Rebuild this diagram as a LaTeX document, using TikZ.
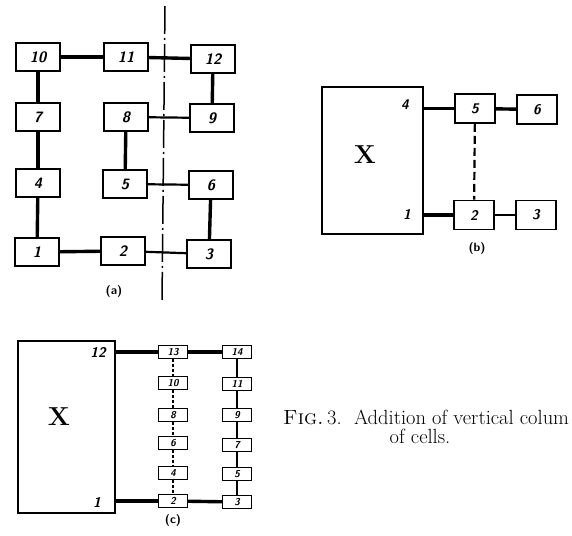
\documentclass[tikz,border=0pt]{standalone}
\begin{document}
\begin{tikzpicture}[x=1pt,y=-1pt,
  cell/.style={draw,line width=1.6pt,minimum width=44pt,minimum height=28pt,inner sep=0pt,
    font=\sffamily\bfseries\itshape\fontsize{15}{15}\selectfont},
  tinycell/.style={cell,line width=1.3pt,minimum width=29pt,minimum height=13pt,
    font=\sffamily\bfseries\itshape\fontsize{10}{10}\selectfont},
  midcell/.style={cell,minimum width=40pt,minimum height=29pt,
    font=\sffamily\bfseries\itshape\fontsize{14}{14}\selectfont},
  block/.style={draw,line width=1.6pt,inner sep=0pt},
  corner/.style={font=\sffamily\bfseries\itshape\fontsize{14}{14}\selectfont},
  bigx/.style={font=\bfseries\fontsize{26}{26}\selectfont},
  sublab/.style={font=\sffamily\bfseries\fontsize{12}{12}\selectfont},
  captext/.style={inner sep=0pt,font=\fontsize{20.5}{20.5}\selectfont},
  heavy/.style={line width=3.4pt},
  medium/.style={line width=2.2pt},
  light/.style={line width=1.2pt}]
  \useasboundingbox (0,0) rectangle (572,535);
  % (a)
  \node[cell] (a10) at (38,57) {10};
  \node[cell] (a11) at (126,57) {11};
  \node[cell] (a12) at (213,59) {12};
  \node[cell] (a7) at (38,117) {7};
  \node[cell] (a8) at (126,117) {8};
  \node[cell] (a9) at (212,118) {9};
  \node[cell] (a4) at (38,183) {4};
  \node[cell] (a5) at (125,184) {5};
  \node[cell] (a6) at (211,185) {6};
  \node[cell] (a1) at (37,252) {1};
  \node[cell] (a2) at (123,251) {2};
  \node[cell] (a3) at (209,254) {3};
  \draw[heavy] (a10) -- (a11);
  \draw[heavy] (a11) -- (a12);
  \draw[heavy] (a10) -- (a7);
  \draw[heavy] (a7) -- (a4);
  \draw[heavy] (a4) -- (a1);
  \draw[heavy] (a1) -- (a2);
  \draw[medium] (a2) -- (a3);
  \draw[heavy] (a12) -- (a9);
  \draw[medium] (a9) -- (a8);
  \draw[heavy] (a8) -- (a5);
  \draw[medium] (a5) -- (a6);
  \draw[heavy] (a6) -- (a3);
  \coordinate (cutT) at (165,6);
  \coordinate (cutB) at (162,302);
  \draw[line width=1.5pt,dash pattern=on 28pt off 4pt on 2pt off 4pt] (cutT) -- (cutB);
  \node[sublab] (alab) at (114,291) {(a)};
  % (b)
  \node[block,minimum width=101pt,minimum height=147pt] (bX) at (372.5,160.5) {};
  \node[bigx] (bXlab) at (365,155) {X};
  \node[corner] (bl4) at (405,105) {4};
  \node[corner] (bl1) at (407,214) {1};
  \node[midcell] (b5) at (475,108.5) {5};
  \node[midcell] (b6) at (537,109.5) {6};
  \node[midcell] (b2) at (474,215) {2};
  \node[midcell] (b3) at (536,215) {3};
  \draw[heavy] (bX.east |- b5.west) -- (b5.west);
  \draw[heavy] (bX.east |- b2.west) -- (b2.west);
  \draw[heavy] (b5) -- (b6);
  \draw[medium] (b2) -- (b3);
  \draw[medium,dash pattern=on 8pt off 4pt] (b5) -- (b2);
  \node[sublab] (blab) at (477,248) {(b)};
  % (c)
  \node[block,minimum width=97pt,minimum height=172pt] (cX) at (66.5,427) {};
  \node[bigx] (cXlab) at (59,417) {X};
  \node[corner] (cl12) at (98,352) {12};
  \node[corner] (cl1) at (97,502) {1};
  \node[tinycell] (c13) at (173,352) {13};
  \node[tinycell] (c10) at (173,383) {10};
  \node[tinycell] (c8) at (173,415) {8};
  \node[tinycell] (c6) at (173,443) {6};
  \node[tinycell] (c4) at (173,473) {4};
  \node[tinycell] (c2) at (173,501) {2};
  \node[tinycell] (c14) at (237,352) {14};
  \node[tinycell] (c11) at (237,384) {11};
  \node[tinycell] (c9) at (237,415) {9};
  \node[tinycell] (c7) at (237,445) {7};
  \node[tinycell] (c5) at (237,474) {5};
  \node[tinycell] (c3) at (237,502) {3};
  \draw[heavy] (cX.east |- c13.west) -- (c13.west);
  \draw[heavy] (cX.east |- c2.west) -- (c2.west);
  \draw[heavy] (c13) -- (c14);
  \draw[heavy] (c2) -- (c3);
  \draw[light,densely dashed] (c13) -- (c10) -- (c8) -- (c6) -- (c4) -- (c2);
  \draw[light] (c14) -- (c11) -- (c9) -- (c7) -- (c5) -- (c3);
  \node[sublab] (clab) at (173,520) {(c)};
  % caption
  \node[captext,anchor=base west] (cap1) at (283,424)
    {\textsc{Fig.}\,3.\ \ Addition of vertical colum};
  \node[captext,anchor=base] (cap2) at (420,443) {of cells.};
\end{tikzpicture}
\end{document}
